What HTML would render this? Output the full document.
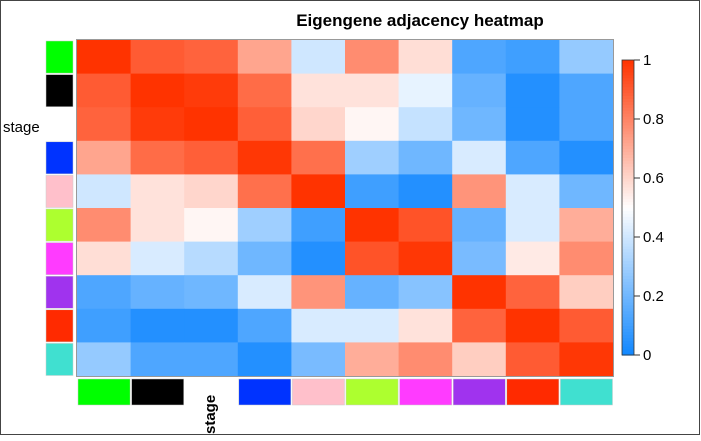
<!DOCTYPE html>
<html><head><meta charset="utf-8"><style>
body{margin:0;background:#fff;}
svg text{font-family:"Liberation Sans",sans-serif;}
</style></head><body>
<svg id="c" width="701" height="436" xmlns="http://www.w3.org/2000/svg">
<rect x="0.5" y="0.5" width="699" height="434" fill="#fff" stroke="#444"/>
<text x="420" y="26" text-anchor="middle" font-size="17" font-weight="bold">Eigengene adjacency heatmap</text>
<g id="cells"></g>
<rect x="76.5" y="39.5" width="537" height="337" fill="none" stroke="#999"/>
<text x="3" y="132" font-size="15">stage</text>
<text transform="translate(215,434) rotate(-90)" font-size="15" font-weight="bold">stage</text>
<g id="legend"></g>
</svg>
<script>
const modules = ["green","black","stage","blue","pink","greenyellow","magenta","purple","red","turquoise"];
const moduleColors = ["#00ff00","#000000",null,"#0033ff","#ffc0cb","#adff2f","#ff3bff","#a033ee","#ff2a00","#40e0d0"];
const adjacency = [
 [1.00,0.90,0.88,0.72,0.40,0.78,0.58,0.13,0.10,0.28],
 [0.90,1.00,0.98,0.86,0.57,0.57,0.45,0.18,0.04,0.13],
 [0.88,0.98,1.00,0.89,0.60,0.52,0.38,0.20,0.04,0.13],
 [0.72,0.86,0.89,0.99,0.85,0.30,0.20,0.42,0.13,0.04],
 [0.40,0.57,0.60,0.85,1.00,0.10,0.04,0.76,0.42,0.20],
 [0.78,0.57,0.52,0.30,0.10,1.00,0.92,0.18,0.42,0.70],
 [0.58,0.42,0.35,0.20,0.04,0.92,0.99,0.22,0.55,0.78],
 [0.13,0.18,0.20,0.42,0.76,0.18,0.25,1.00,0.88,0.62],
 [0.10,0.04,0.04,0.13,0.42,0.42,0.57,0.88,1.00,0.90],
 [0.28,0.13,0.13,0.04,0.22,0.70,0.78,0.62,0.90,0.99]];
const legendTicks = [0,0.2,0.4,0.6,0.8,1];
const NS="http://www.w3.org/2000/svg";
const X0=77,X1=613,Y0=40,Y1=376;
const cw=(X1-X0)/modules.length, ch=(Y1-Y0)/modules.length;
function col(v){
  v=Math.max(0,Math.min(1,v));
  let r,g,b;
  if(v>=0.5){const t=(v-0.5)/0.5;r=255;g=255-t*204;b=255-t*255;}
  else{const t=(0.5-v)/0.5;r=255-t*239;g=255-t*120;b=255;}
  return `rgb(${r|0},${g|0},${b|0})`;
}
function mk(tag,attrs,parent){const e=document.createElementNS(NS,tag);for(const k in attrs)e.setAttribute(k,attrs[k]);parent.appendChild(e);return e;}
const cells=document.getElementById('cells');
adjacency.forEach((row,i)=>row.forEach((v,j)=>{
  const r=mk('rect',{x:X0+j*cw,y:Y0+i*ch,width:cw+0.5,height:ch+0.5,fill:col(v)},cells);
  
  
}));
const svg=document.getElementById('c');
moduleColors.forEach((c,i)=>{
  if(!c)return;
  const a=mk('rect',{x:46,y:Y0+i*ch+1,width:27,height:ch-1.5,fill:c,stroke:'#ccc','stroke-width':0.5},svg);
  
  
  const b=mk('rect',{x:X0+i*cw+1,y:379,width:cw-1.5,height:26,fill:c,stroke:'#ccc','stroke-width':0.5},svg);
  
  
});
const lg=document.getElementById('legend');
const LX=622,LW=12,LT=60,LB=355;
for(let k=0;k<100;k++){
  const v0=k/100;
  const r=mk('rect',{x:LX,y:LB-(k+1)/100*(LB-LT),width:LW,height:(LB-LT)/100+0.6,fill:col(v0+0.005)},lg);
  
  
}
const lb=mk('rect',{x:LX,y:LT,width:LW,height:LB-LT,fill:'none',stroke:'#333','stroke-width':0.8},lg);


legendTicks.forEach(t=>{
  const y=LB-t*(LB-LT);
  const l=mk('line',{x1:LX+LW,x2:LX+LW+6,y1:y,y2:y,stroke:'#333'},lg);
  
  
  const tx=mk('text',{x:LX+LW+9,y:y+5,'font-size':15},lg);
  tx.textContent=String(t);
  
  
});
</script>
</body></html>
